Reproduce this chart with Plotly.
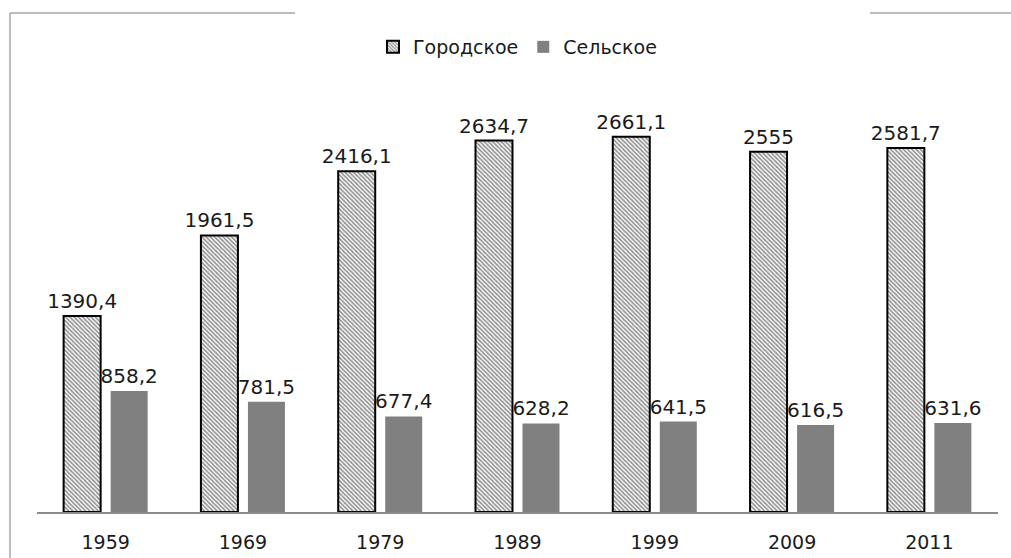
import plotly.graph_objects as go

years = ["1959", "1969", "1979", "1989", "1999", "2009", "2011"]
urban = [1390.4, 1961.5, 2416.1, 2634.7, 2661.1, 2555, 2581.7]
rural = [858.2, 781.5, 677.4, 628.2, 641.5, 616.5, 631.6]
series_names = ["Городское", "Сельское"]


def fmt(v):
    s = ("%.1f" % v).rstrip("0").rstrip(".")
    return s.replace(".", ",")


W, H = 1011, 558
L, R, T, B = 37, 13, 89, 46
pw, ph = W - L - R, H - T - B

label_font = dict(family="DejaVu Sans", size=20, color="#1a1a1a")

fig = go.Figure()
fig.add_trace(go.Bar(
    name=series_names[0], x=years, y=urban,
    text=[fmt(v) for v in urban], textposition="outside", constraintext="none",
    textfont=label_font,
    marker=dict(color="white", line=dict(color="black", width=2),
                pattern=dict(shape="\\", fgcolor="#222222", bgcolor="white",
                             size=3, solidity=0.55)),
    cliponaxis=False,
))
fig.add_trace(go.Bar(
    name=series_names[1], x=years, y=rural,
    text=[fmt(v) for v in rural], textposition="outside", constraintext="none",
    textfont=label_font,
    marker=dict(color="#808080", line=dict(width=0)),
    cliponaxis=False,
))


def px_x(p):
    return (p - L) / pw


def px_y(p):
    return (H - B - p) / ph


line_style = dict(color="#a6a6a6", width=1.5)
shapes = [
    dict(type="line", xref="paper", yref="paper", x0=px_x(10), x1=px_x(295),
         y0=px_y(13), y1=px_y(13), line=line_style),
    dict(type="line", xref="paper", yref="paper", x0=px_x(10), x1=px_x(10),
         y0=px_y(13), y1=px_y(558), line=line_style),
    dict(type="line", xref="paper", yref="paper", x0=px_x(870), x1=px_x(1011),
         y0=px_y(13), y1=px_y(13), line=line_style),
]

fig.update_layout(
    width=W, height=H,
    margin=dict(l=L, r=R, t=T, b=B),
    paper_bgcolor="white", plot_bgcolor="white",
    barmode="group", bargap=0.315, bargroupgap=0.213,
    font=dict(family="DejaVu Sans", size=15, color="#1a1a1a"),
    legend=dict(orientation="h", x=0.5, xanchor="center", y=px_y(47), yanchor="middle",
                font=dict(size=19), traceorder="normal", itemwidth=30),
    xaxis=dict(showline=True, linecolor="#8c8c8c", linewidth=1.5, ticks="",
               tickfont=dict(size=19), showgrid=False, ticklabelstandoff=12,
               automargin=False),
    yaxis=dict(range=[0, 3000], visible=False, showgrid=False, automargin=False),
    shapes=shapes,
)

fig.write_html("out.html", config={"displayModeBar": False},
               post_script="document.body.style.margin='0';document.body.style.padding='0';")
